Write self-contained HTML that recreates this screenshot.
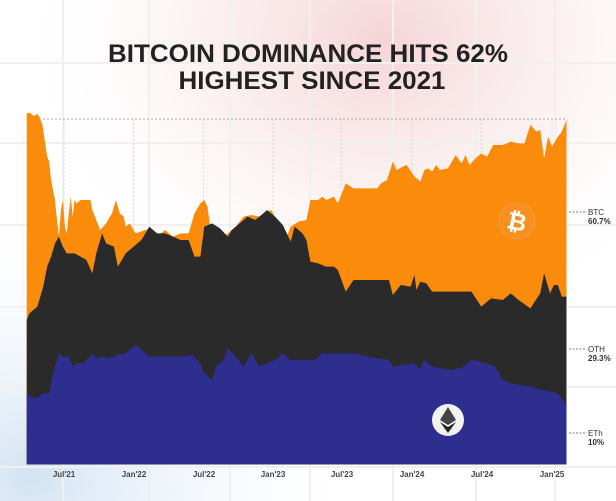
<!DOCTYPE html>
<html><head><meta charset="utf-8"><style>
html,body{margin:0;padding:0;width:616px;height:501px;overflow:hidden;background:#fff}
svg{display:block}
</style></head><body>
<svg width="616" height="501" viewBox="0 0 616 501" xmlns="http://www.w3.org/2000/svg">
<defs>
<radialGradient id="pink" cx="0.62" cy="0.08" r="0.6">
<stop offset="0" stop-color="#f3cdd0" stop-opacity="0.85"/>
<stop offset="0.5" stop-color="#f8e4e5" stop-opacity="0.5"/>
<stop offset="1" stop-color="#fff" stop-opacity="0"/>
</radialGradient>
<radialGradient id="blue" cx="0.05" cy="0.95" r="0.55">
<stop offset="0" stop-color="#d3e3f3"/>
<stop offset="1" stop-color="#fff" stop-opacity="0"/>
</radialGradient>
</defs>
<rect width="616" height="501" fill="#fff"/>
<rect width="616" height="501" fill="url(#pink)"/>
<rect width="616" height="501" fill="url(#blue)"/>
<g stroke="#f0f0f0" stroke-width="2">
<line x1="63" y1="0" x2="63" y2="501"/><line x1="149" y1="0" x2="149" y2="501"/><line x1="230" y1="0" x2="230" y2="501"/><line x1="310" y1="0" x2="310" y2="501"/><line x1="393" y1="0" x2="393" y2="501"/><line x1="476" y1="0" x2="476" y2="501"/><line x1="555" y1="0" x2="555" y2="501"/>
<line x1="0" y1="63" x2="616" y2="63"/><line x1="0" y1="143" x2="616" y2="143"/><line x1="0" y1="225" x2="616" y2="225"/><line x1="0" y1="307" x2="616" y2="307"/><line x1="0" y1="387" x2="616" y2="387"/><line x1="0" y1="467" x2="616" y2="467"/>
</g>
<text x="308" y="62" text-anchor="middle" font-family="Liberation Sans, sans-serif" font-weight="bold" font-size="25" fill="#222" textLength="400" lengthAdjust="spacingAndGlyphs">BITCOIN DOMINANCE HITS 62%</text>
<text x="312" y="89" text-anchor="middle" font-family="Liberation Sans, sans-serif" font-weight="bold" font-size="25" fill="#222" textLength="267" lengthAdjust="spacingAndGlyphs">HIGHEST SINCE 2021</text>
<line x1="27" y1="119" x2="567" y2="119" stroke="#aaa" stroke-dasharray="2,2"/>
<svg x="0" y="100" width="616" height="401" viewBox="0 0 1568 1203" preserveAspectRatio="none">
<g stroke="#cfcfcf" stroke-width="2" stroke-dasharray="6,6">
<line x1="163" y1="57" x2="163" y2="1093"/><line x1="340" y1="57" x2="340" y2="1093"/><line x1="518" y1="57" x2="518" y2="1093"/><line x1="695" y1="57" x2="695" y2="1093"/><line x1="870" y1="57" x2="870" y2="1093"/><line x1="1048" y1="57" x2="1048" y2="1093"/><line x1="1226" y1="57" x2="1226" y2="1093"/><line x1="1405" y1="57" x2="1405" y2="1093"/>
</g>
<path fill="#fb8b0a" d="M68,1093 L68,40 L75,38 L85,48 L95,42 L100,50 L108,75 L120,170 L125,185 L130,240 L140,300 L145,360 L150,410 L155,330 L160,300 L165,380 L170,400 L175,340 L180,290 L185,350 L190,300 L195,310 L205,300 L230,300 L235,330 L245,360 L255,390 L270,370 L285,340 L295,300 L305,340 L315,350 L320,380 L330,370 L345,400 L370,390 L385,385 L400,410 L420,390 L440,410 L460,400 L480,400 L495,340 L510,310 L520,300 L528,320 L535,380 L555,400 L570,410 L590,390 L600,380 L620,350 L640,345 L660,350 L675,340 L690,330 L700,350 L715,380 L725,400 L730,410 L740,380 L760,365 L780,360 L790,300 L810,300 L820,290 L830,300 L850,290 L860,310 L870,280 L880,250 L900,265 L960,265 L970,250 L985,240 L1000,185 L1010,210 L1025,200 L1035,195 L1055,230 L1070,245 L1080,210 L1090,205 L1100,215 L1110,195 L1120,210 L1140,205 L1160,165 L1175,190 L1185,165 L1195,195 L1210,175 L1225,160 L1240,170 L1255,135 L1280,135 L1300,125 L1320,130 L1335,130 L1350,75 L1365,95 L1375,90 L1385,175 L1395,110 L1405,140 L1420,110 L1430,95 L1442,60 L1442,1093 Z"/>
<path fill="#2a2a2a" d="M68,1093 L68,660 L75,640 L85,630 L95,620 L110,560 L120,500 L130,470 L140,430 L150,410 L160,440 L170,460 L190,460 L205,470 L220,480 L235,520 L245,460 L260,400 L270,430 L290,440 L300,500 L320,460 L340,440 L360,420 L380,380 L400,400 L420,400 L440,410 L460,420 L480,420 L495,470 L510,470 L520,380 L540,370 L560,385 L580,410 L590,390 L610,370 L630,350 L650,360 L670,340 L680,330 L700,350 L720,375 L730,400 L740,425 L750,380 L770,400 L780,420 L790,485 L810,490 L830,500 L850,500 L860,510 L880,575 L900,540 L990,540 L1000,585 L1020,555 L1045,560 L1055,525 L1060,570 L1070,545 L1085,550 L1100,575 L1200,575 L1225,620 L1250,595 L1280,600 L1300,580 L1320,600 L1350,625 L1375,580 L1385,520 L1400,580 L1410,555 L1420,555 L1430,590 L1442,590 L1442,1093 Z"/>
<path fill="#2e2e8f" d="M68,1093 L68,880 L80,890 L90,895 L100,890 L110,880 L125,880 L135,820 L145,780 L150,760 L160,770 L175,770 L185,800 L195,790 L210,790 L225,775 L235,760 L245,775 L260,770 L280,775 L300,765 L320,760 L345,735 L360,750 L380,770 L460,770 L490,765 L510,790 L520,820 L540,840 L550,800 L570,780 L580,745 L600,770 L620,800 L640,760 L660,800 L680,790 L700,780 L720,760 L740,780 L800,780 L820,760 L840,760 L900,760 L960,775 L990,780 L1000,800 L1050,790 L1070,805 L1080,780 L1100,800 L1150,810 L1180,800 L1200,780 L1240,790 L1260,800 L1280,840 L1300,850 L1350,860 L1380,870 L1420,880 L1442,915 L1442,1093 Z"/>
</svg>
<circle cx="517" cy="221" r="18" fill="#f7901e" stroke="#f39a3c" stroke-width="1"/>
<text x="517" y="230" text-anchor="middle" font-family="Liberation Sans, sans-serif" font-weight="bold" font-size="24" fill="#fff" transform="rotate(12 517 221)">₿</text>
<circle cx="448" cy="420" r="16" fill="#f2f2f2"/>
<polygon points="448,407 456,420 448,425 440,420" fill="#444"/>
<polygon points="448,427 456,422 448,433 440,422" fill="#222"/>
<g stroke="#555" stroke-width="0.8" stroke-dasharray="2,1.5">
<line x1="569" y1="212" x2="587" y2="212"/><line x1="569" y1="349" x2="587" y2="349"/><line x1="569" y1="433" x2="587" y2="433"/>
</g>
<g font-family="Liberation Sans, sans-serif" font-size="8" fill="#333">
<text x="588" y="215">BTC</text><text x="588" y="224" font-weight="bold">60.7%</text>
<text x="588" y="352">OTH</text><text x="588" y="361" font-weight="bold">29.3%</text>
<text x="588" y="436">ETh</text><text x="588" y="445" font-weight="bold">10%</text>
</g>
<g font-family="Liberation Sans, sans-serif" font-size="8" font-weight="bold" fill="#444" text-anchor="middle">
<text x="64" y="477">Jul'21</text><text x="134" y="477">Jan'22</text><text x="204" y="477">Jul'22</text><text x="273" y="477">Jan'23</text><text x="342" y="477">Jul'23</text><text x="412" y="477">Jan'24</text><text x="482" y="477">Jul'24</text><text x="552" y="477">Jan'25</text>
</g>
</svg>
</body></html>
